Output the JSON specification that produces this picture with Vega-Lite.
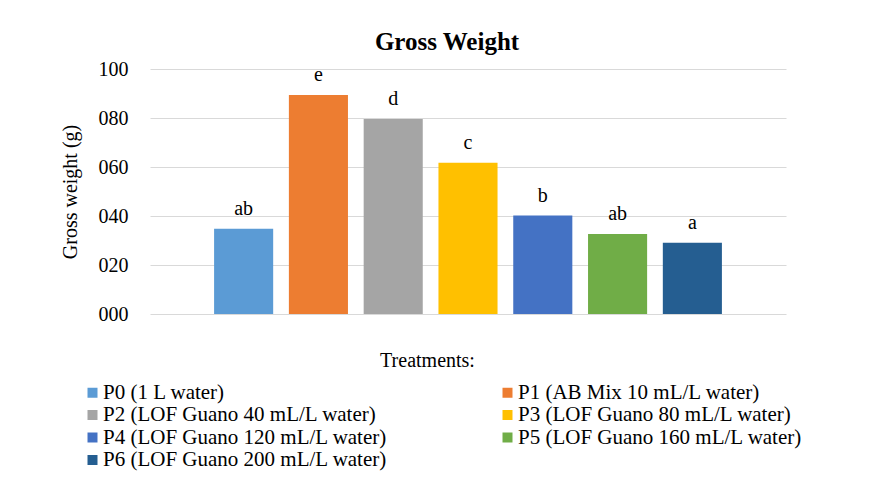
{
  "$schema": "https://vega.github.io/schema/vega-lite/v6.json",
  "width": 636,
  "height": 245,
  "autosize": {"type": "none"},
  "padding": {"left": 150, "top": 69, "right": 85, "bottom": 165},
  "background": "white",
  "config": {"view": {"stroke": null}, "font": "Liberation Serif, DejaVu Serif, serif"},
  "title": {
    "text": "Gross Weight",
    "font": "Liberation Serif, DejaVu Serif, serif",
    "fontSize": 25,
    "fontWeight": "bold",
    "color": "#000000",
    "anchor": "middle",
    "dx": -21,
    "offset": 4
  },
  "data": {
    "values": [
      {"treatment": "P0 (1 L water)", "weight": 34.8, "letter": "ab"},
      {"treatment": "P1 (AB Mix 10 mL/L water)", "weight": 89.4, "letter": "e"},
      {"treatment": "P2 (LOF Guano 40 mL/L water)", "weight": 79.6, "letter": "d"},
      {"treatment": "P3 (LOF Guano 80 mL/L water)", "weight": 61.7, "letter": "c"},
      {"treatment": "P4 (LOF Guano 120 mL/L water)", "weight": 40.2, "letter": "b"},
      {"treatment": "P5 (LOF Guano 160 mL/L water)", "weight": 32.7, "letter": "ab"},
      {"treatment": "P6 (LOF Guano 200 mL/L water)", "weight": 29.1, "letter": "a"}
    ]
  },
  "encoding": {
    "x": {
      "field": "treatment",
      "type": "nominal",
      "sort": null,
      "scale": {"paddingInner": 0.21, "paddingOuter": 0.857},
      "axis": {
        "labels": false,
        "ticks": false,
        "domain": false,
        "title": "Treatments:",
        "titleFont": "Liberation Serif, DejaVu Serif, serif",
        "titleFontSize": 20,
        "titleFontWeight": "normal",
        "titleColor": "#000000",
        "titleX": 277,
        "titleY": 46,
        "titleAlign": "center",
        "titleBaseline": "middle"
      }
    },
    "y": {
      "field": "weight",
      "type": "quantitative",
      "scale": {"domain": [0, 100]},
      "axis": {
        "values": [0, 20, 40, 60, 80, 100],
        "format": "03d",
        "labelFont": "Liberation Serif, DejaVu Serif, serif",
        "labelFontSize": 20,
        "labelColor": "#000000",
        "labelPadding": 22,
        "ticks": false,
        "domain": false,
        "gridColor": "#d9d9d9",
        "gridWidth": 1.2,
        "title": "Gross  weight (g)",
        "titleFont": "Liberation Serif, DejaVu Serif, serif",
        "titleFontSize": 20,
        "titleFontWeight": "normal",
        "titleColor": "#000000",
        "titlePadding": 18
      }
    }
  },
  "layer": [
    {
      "mark": {"type": "bar"},
      "encoding": {
        "color": {
          "field": "treatment",
          "type": "nominal",
          "sort": null,
          "scale": {
            "domain": [
              "P0 (1 L water)",
              "P1 (AB Mix 10 mL/L water)",
              "P2 (LOF Guano 40 mL/L water)",
              "P3 (LOF Guano 80 mL/L water)",
              "P4 (LOF Guano 120 mL/L water)",
              "P5 (LOF Guano 160 mL/L water)",
              "P6 (LOF Guano 200 mL/L water)"
            ],
            "range": ["#5B9BD5", "#ED7D31", "#A5A5A5", "#FFC000", "#4472C4", "#70AD47", "#255E91"]
          },
          "legend": {
            "orient": "none",
            "direction": "horizontal",
            "legendX": -68,
            "legendY": 313,
            "columns": 2,
            "title": null,
            "symbolType": "square",
            "symbolSize": 100,
            "symbolStrokeWidth": 0,
            "labelFont": "Liberation Serif, DejaVu Serif, serif",
            "labelFontSize": 21,
            "labelColor": "#000000",
            "labelOffset": 0,
            "labelLimit": 400,
            "columnPadding": 109,
            "rowPadding": 0.5
          }
        }
      }
    },
    {
      "mark": {
        "type": "text",
        "baseline": "middle",
        "dy": -20,
        "font": "Liberation Serif, DejaVu Serif, serif",
        "fontSize": 20,
        "color": "#000000"
      },
      "encoding": {"text": {"field": "letter"}}
    }
  ]
}
